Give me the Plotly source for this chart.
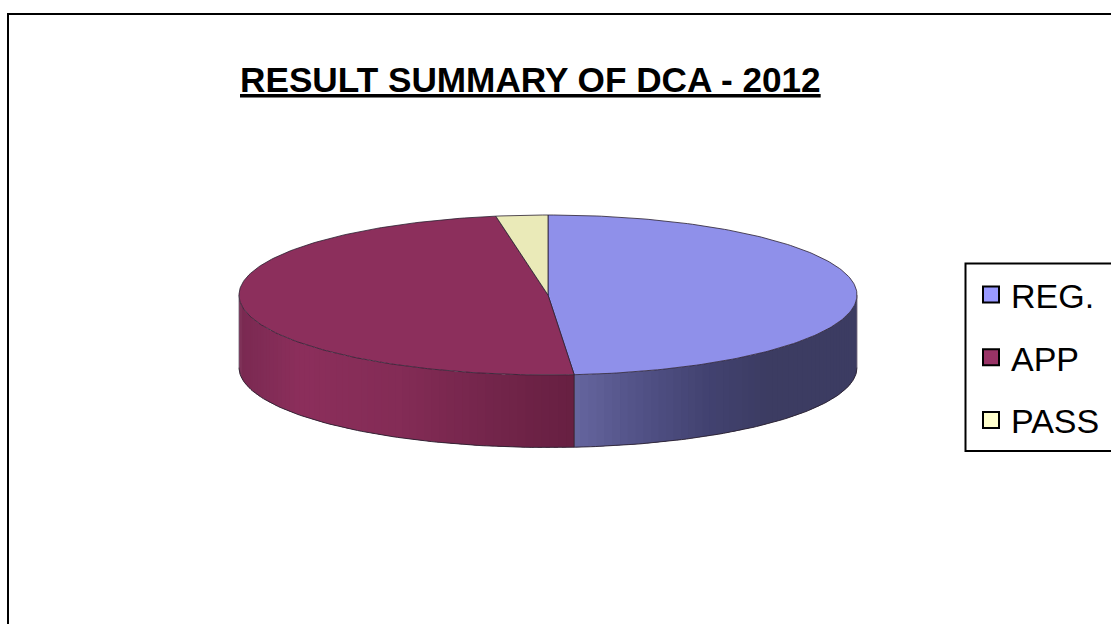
import math
import plotly.graph_objects as go

# Data
categories = ["REG.", "APP", "PASS"]
values = [54, 54, 3]
title_text = "RESULT SUMMARY OF DCA - 2012"

# Style
legend_colors = ["#9999FF", "#993366", "#FFFFCC"]
top_colors = ["#8F90EA", "#8C2F5C", "#EAEAB8"]
side_stops = [
    [(574, (102, 102, 159)), (640, (82, 82, 135)), (710, (66, 66, 112)), (770, (60, 60, 98)), (857, (60, 60, 98))],
    [(240, (122, 42, 82)), (300, (140, 47, 92)), (400, (132, 44, 86)), (500, (114, 37, 74)), (574, (104, 32, 66))],
    [(0, (200, 200, 160)), (1111, (200, 200, 160))],
]
CX, CY, RX, RY, DEPTH = 548, 295, 309, 80, 72.5
EDGE = "#2a2030"


def pt(t, dy=0):
    r = math.radians(t)
    return CX + RX * math.sin(r), CY - RY * math.cos(r) + dy


def arc(a, b, dy=0):
    n = max(2, int(abs(b - a)) + 2)
    return [pt(a + (b - a) * i / (n - 1), dy) for i in range(n)]


def shade(stops, x):
    if x <= stops[0][0]:
        return stops[0][1]
    for (x0, c0), (x1, c1) in zip(stops, stops[1:]):
        if x <= x1:
            f = (x - x0) / (x1 - x0)
            return tuple(c0[i] + (c1[i] - c0[i]) * f for i in range(3))
    return stops[-1][1]


def poly(points, fill, line=None, width=0.8):
    pts = list(points)
    return go.Scatter(
        x=[p[0] for p in pts] + [pts[0][0]],
        y=[p[1] for p in pts] + [pts[0][1]],
        mode="lines", fill="toself", fillcolor=fill,
        line=dict(color=line or fill, width=width if line else 0),
        showlegend=False, hoverinfo="skip",
    )


def path(points, color=EDGE, width=0.9):
    pts = list(points)
    return go.Scatter(x=[p[0] for p in pts], y=[p[1] for p in pts], mode="lines",
                      line=dict(color=color, width=width), showlegend=False, hoverinfo="skip")


fig = go.Figure()
total = sum(values)
start = 0
spans = []
for v in values:
    spans.append((start, start + v / total * 360))
    start += v / total * 360

# Side wall strips (front half of the rim); each strip overlaps the next to hide seams.
STEP = 1.5
OVERLAP = 0.8
for idx, (a, b) in enumerate(spans):
    lo, hi = max(a, 90), min(b, 270)
    if lo >= hi:
        continue
    t = lo
    while t < hi:
        t2 = min(t + STEP, hi)
        t3 = min(t2 + OVERLAP, hi)
        top = arc(t, t3)
        bottom = arc(t3, t, DEPTH)
        xm = pt((t + t2) / 2)[0]
        c = shade(side_stops[idx], xm)
        fig.add_trace(poly(top + bottom, "rgb(%d,%d,%d)" % c))
        t = t2
    fig.add_trace(path(arc(lo, hi, DEPTH)))

# Top faces
for idx, (a, b) in enumerate(spans):
    fig.add_trace(poly([(CX, CY)] + arc(a, b), top_colors[idx], EDGE, 0.8))

# Rim verticals
x, y = pt(spans[0][1])
fig.add_trace(path([(x, y), (x, y + DEPTH)]))
for t in (90, 270):
    x, y = pt(t)
    fig.add_trace(path([(x, y), (x, y + DEPTH)], color="#5a4a60", width=0.7))

# Legend entries
for name, col in zip(categories, legend_colors):
    fig.add_trace(go.Scatter(
        x=[None], y=[None], mode="markers", name=name, legendgroup=name,
        marker=dict(symbol="square", size=16, color=col, line=dict(color="black", width=2)),
    ))

fig.update_layout(
    width=1111, height=624,
    margin=dict(l=0, r=0, t=0, b=0),
    paper_bgcolor="white", plot_bgcolor="white",
    font=dict(family="Liberation Sans, Arial, sans-serif", color="black"),
    xaxis=dict(range=[0, 1111], visible=False, fixedrange=True),
    yaxis=dict(range=[624, 0], visible=False, fixedrange=True),
    showlegend=True,
    legend=dict(
        x=971 / 1111, y=1 - 266 / 624, xanchor="left", yanchor="top",
        bgcolor="rgba(0,0,0,0)", borderwidth=0,
        font=dict(size=34), tracegroupgap=15.5, itemwidth=30,
        entrywidth=100, entrywidthmode="pixels",
    ),
    shapes=[
        dict(type="rect", xref="x", yref="y", x0=8, y0=14, x1=1300, y1=800,
             line=dict(color="black", width=2), layer="below"),
        dict(type="rect", xref="x", yref="y", x0=965.5, y0=263.5, x1=1200, y1=451,
             line=dict(color="black", width=2), fillcolor="white", layer="below"),
    ],
    annotations=[dict(
        text="<b><u>%s</u></b>" % title_text, xref="x", yref="y", x=530.5, y=79,
        showarrow=False, font=dict(size=35.2, color="black"), xanchor="center", yanchor="middle",
    )],
)

fig.write_html("out.html", post_script="document.body.style.margin='0';",
               config={"displayModeBar": False})
